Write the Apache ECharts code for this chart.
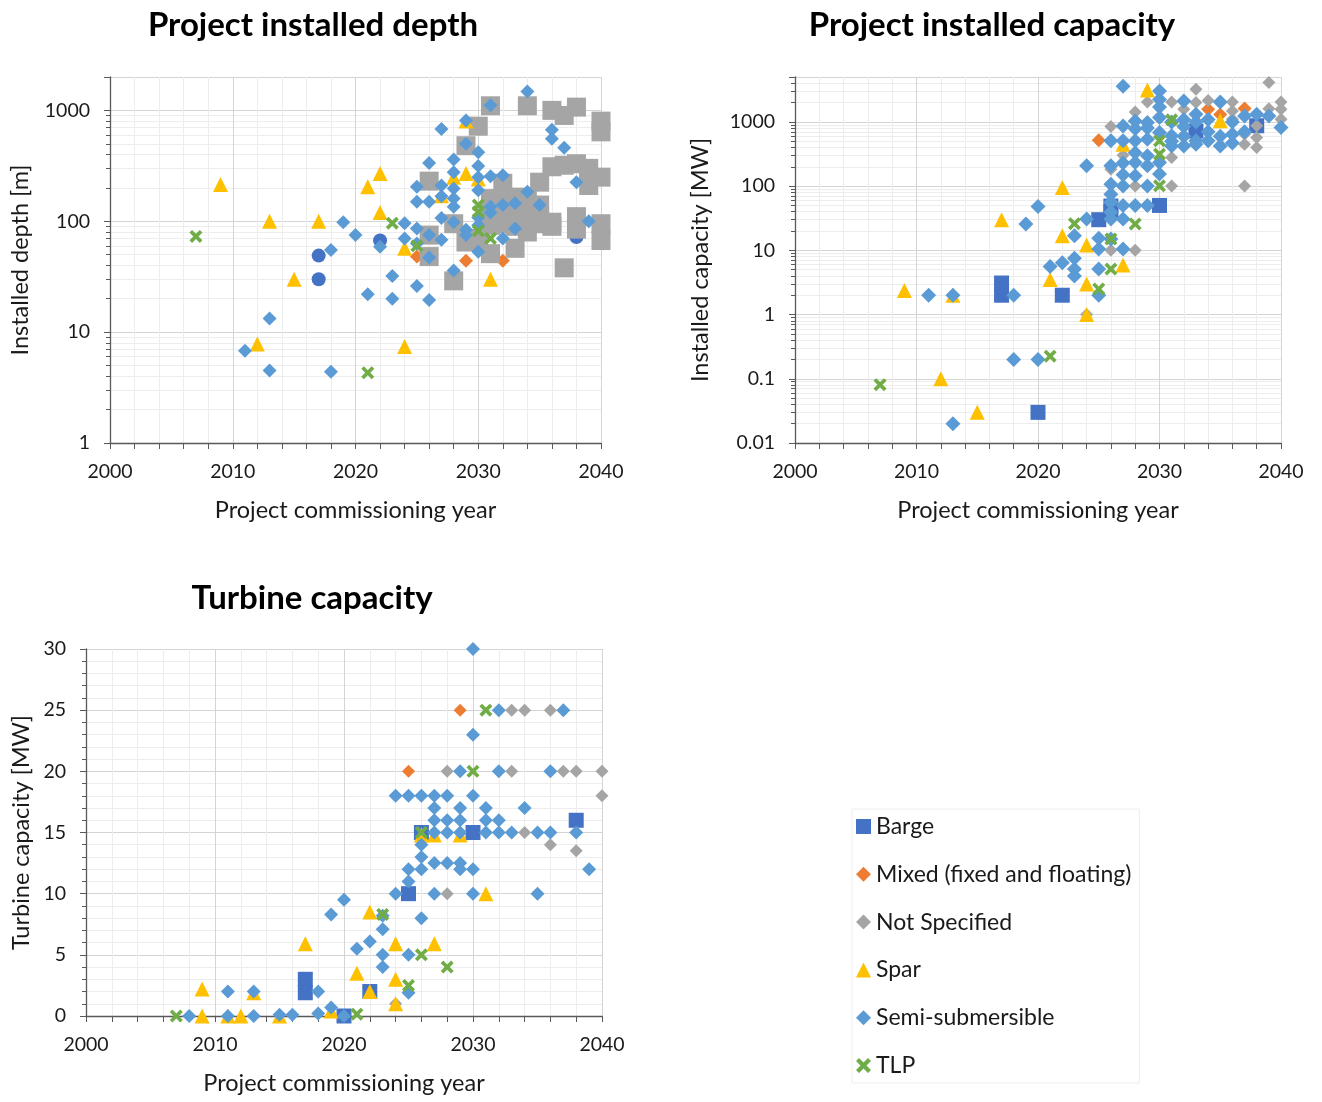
<!DOCTYPE html>
<html>
<head>
<meta charset="utf-8">
<title>Floating offshore wind projects</title>
<script src="https://cdn.jsdelivr.net/npm/echarts/dist/echarts.min.js"></script>
<style>
  html, body { margin: 0; padding: 0; background: #ffffff; }
  #chart { width: 1322px; height: 1102px; }
</style>
</head>
<body>
<div id="chart"></div>
<script>
// ---- Foundation types (legend order) ----
const seriesNames = ['Barge', 'Mixed (fixed and floating)', 'Not Specified', 'Spar', 'Semi-submersible', 'TLP'];
const xTicks = [2000, 2010, 2020, 2030, 2040];

// ---- Project installed depth [m] : [commissioning year, depth] ----
const depthBarge = [[2017, 49], [2017, 30], [2022, 67], [2038, 72]];
const depthMixed = [[2025, 48], [2029, 44], [2032, 44]];
const depthNotSpecified = [
  [2026, 230], [2026, 75], [2026, 48], [2028, 95], [2028, 29], [2029, 480], [2029, 65],
  [2030, 720], [2030, 70], [2031, 1100], [2031, 92], [2031, 51], [2031, 115], [2031, 160],
  [2032, 220], [2032, 130], [2032, 95], [2032, 110], [2032, 150], [2033, 165], [2033, 120],
  [2033, 105], [2033, 90], [2033, 57], [2033, 140], [2034, 1100], [2034, 155], [2034, 125],
  [2034, 100], [2034, 80], [2035, 225], [2035, 140], [2035, 110], [2035, 95], [2036, 1000],
  [2036, 310], [2036, 98], [2036, 90], [2037, 900], [2037, 320], [2037, 38], [2038, 1070],
  [2038, 330], [2038, 110], [2038, 85], [2039, 300], [2039, 210], [2039, 250], [2040, 800],
  [2040, 640], [2040, 250], [2040, 95], [2040, 67]
];
const depthSpar = [
  [2009, 215], [2012, 7.8], [2013, 100], [2015, 30], [2017, 100], [2021, 205], [2022, 270],
  [2022, 120], [2024, 57], [2024, 7.4], [2027, 170], [2028, 250], [2029, 270], [2029, 800],
  [2030, 240], [2031, 30]
];
const depthSemiSub = [
  [2011, 6.8], [2013, 13.3], [2013, 4.5], [2018, 4.4], [2018, 55], [2019, 98], [2020, 75],
  [2021, 22], [2022, 59], [2023, 32], [2023, 20], [2024, 96], [2024, 70], [2025, 205],
  [2025, 150], [2025, 86], [2025, 63], [2025, 26], [2026, 335], [2026, 150], [2026, 75],
  [2026, 47], [2026, 19.5], [2027, 680], [2027, 210], [2027, 168], [2027, 107], [2027, 68],
  [2028, 360], [2028, 277], [2028, 197], [2028, 160], [2028, 135], [2028, 98], [2028, 36],
  [2029, 810], [2029, 500], [2029, 84], [2029, 75], [2030, 420], [2030, 315], [2030, 250],
  [2030, 190], [2030, 108], [2030, 92], [2030, 53], [2031, 1110], [2031, 254], [2031, 135],
  [2031, 120], [2032, 260], [2032, 140], [2032, 70], [2033, 145], [2033, 86], [2034, 1480],
  [2034, 185], [2035, 140], [2036, 670], [2036, 555], [2037, 460], [2038, 225], [2039, 100]
];
const depthTLP = [
  [2007, 73], [2021, 4.3], [2023, 96], [2025, 60], [2030, 140], [2030, 122], [2030, 82], [2031, 70]
];

// ---- Project installed capacity [MW] : [commissioning year, capacity] ----
const capBarge = [
  [2017, 3.1], [2017, 2.0], [2020, 0.03], [2022, 2.0], [2025, 30], [2026, 49], [2026, 40],
  [2030, 50], [2033, 720], [2038, 870]
];
const capMixed = [[2025, 520], [2034, 1570], [2035, 1300], [2037, 1610]];
const capNotSpecified = [
  [2024, 1.0], [2026, 845], [2026, 183], [2026, 10], [2027, 303], [2028, 1430], [2028, 100],
  [2028, 10], [2029, 2040], [2031, 2040], [2031, 279], [2031, 100], [2032, 1570], [2033, 3220],
  [2033, 2000], [2034, 2150], [2036, 2040], [2036, 1480], [2036, 1100], [2037, 640],
  [2037, 450], [2037, 100], [2038, 870], [2038, 570], [2038, 400], [2039, 4100], [2039, 1600],
  [2040, 2040], [2040, 1570], [2040, 1100]
];
const capSpar = [
  [2009, 2.36], [2012, 0.1], [2013, 2.0], [2015, 0.03], [2017, 30], [2021, 3.5], [2022, 95],
  [2022, 16.9], [2024, 12.1], [2024, 3.0], [2024, 1.0], [2027, 450], [2027, 5.9],
  [2029, 3140], [2035, 1040]
];
const capSemiSub = [
  [2011, 2.0], [2013, 2.0], [2013, 0.02], [2018, 2.0], [2018, 0.2], [2019, 25.6], [2020, 0.2],
  [2020, 48], [2021, 5.6], [2022, 6.4], [2023, 7.5], [2023, 5.1], [2023, 4.0], [2023, 16.9],
  [2024, 207], [2024, 30.7], [2025, 15.4], [2025, 10.5], [2025, 5.1], [2025, 2.0],
  [2026, 207], [2026, 107], [2026, 75], [2026, 56], [2026, 39], [2026, 30.7], [2026, 15],
  [2026, 507], [2027, 3600], [2027, 866], [2027, 507], [2027, 230], [2027, 150], [2027, 100],
  [2027, 50], [2027, 30.7], [2027, 10.5], [2028, 1037], [2028, 780], [2028, 507], [2028, 330],
  [2028, 233], [2028, 145], [2028, 50], [2029, 980], [2029, 800], [2029, 537], [2029, 296],
  [2029, 207], [2029, 100], [2029, 50], [2030, 3030], [2030, 2240], [2030, 1700], [2030, 1170],
  [2030, 682], [2030, 233], [2030, 154], [2031, 1000], [2031, 610], [2031, 500], [2031, 420],
  [2032, 2120], [2032, 1090], [2032, 850], [2032, 600], [2032, 420], [2033, 1320], [2033, 1000],
  [2033, 507], [2033, 450], [2034, 1090], [2034, 700], [2034, 507], [2035, 2040], [2035, 600],
  [2035, 420], [2036, 1000], [2036, 640], [2036, 470], [2037, 1240], [2037, 700], [2038, 1320],
  [2039, 1240], [2040, 815]
];
const capTLP = [
  [2007, 0.081], [2021, 0.225], [2023, 26], [2025, 2.5], [2026, 15], [2026, 5.1], [2028, 25.7],
  [2030, 507], [2030, 314], [2030, 101], [2031, 1075]
];

// ---- Turbine capacity [MW] : [commissioning year, rating] ----
const turbBarge = [
  [2017, 3.0], [2017, 1.9], [2020, 0], [2022, 2.0], [2025, 10], [2026, 15], [2030, 15], [2038, 16]
];
const turbMixed = [[2025, 20], [2029, 25]];
const turbNotSpecified = [
  [2024, 1.0], [2028, 20], [2028, 10], [2033, 25], [2034, 25], [2036, 25], [2033, 20],
  [2037, 20], [2038, 20], [2040, 20], [2040, 18], [2034, 15], [2036, 14], [2038, 13.5]
];
const turbSpar = [
  [2009, 2.2], [2009, 0], [2011, 0], [2012, 0], [2013, 1.9], [2015, 0], [2017, 5.9],
  [2019, 0.4], [2021, 3.5], [2022, 8.5], [2022, 2.0], [2024, 5.9], [2024, 3.0], [2024, 1.0],
  [2026, 14.8], [2027, 14.8], [2029, 14.8], [2027, 5.9], [2031, 10]
];
const turbSemiSub = [
  [2008, 0], [2011, 2.0], [2011, 0], [2013, 2.0], [2013, 0], [2015, 0.1], [2016, 0.1],
  [2018, 2.0], [2018, 0.2], [2019, 0.7], [2019, 8.3], [2020, 9.5], [2020, 0], [2021, 5.5],
  [2022, 6.1], [2023, 8.2], [2023, 7.1], [2023, 5.0], [2023, 4.0], [2024, 18], [2024, 10],
  [2025, 18], [2025, 12], [2025, 11], [2025, 5.0], [2025, 1.9], [2026, 18], [2026, 14],
  [2026, 13], [2026, 12], [2026, 8], [2027, 18], [2027, 17], [2027, 16], [2027, 15],
  [2027, 12.5], [2027, 10], [2028, 18], [2028, 16], [2028, 15], [2028, 12.5], [2029, 20],
  [2029, 17], [2029, 16], [2029, 15], [2029, 12.5], [2029, 12], [2030, 30], [2030, 23],
  [2030, 18], [2030, 12], [2030, 10], [2031, 17], [2031, 16], [2031, 15], [2032, 25],
  [2032, 20], [2032, 16], [2032, 15], [2033, 15], [2034, 17], [2035, 15], [2035, 10],
  [2036, 20], [2036, 15], [2037, 25], [2038, 15], [2039, 12]
];
const turbTLP = [
  [2007, 0], [2021, 0.15], [2023, 8.3], [2025, 2.5], [2026, 15], [2026, 5], [2028, 4],
  [2030, 20], [2031, 25]
];

// ---- styling ----
const COLORS = ['#4472C4', '#ED7D31', '#A5A5A5', '#FFC000', '#5B9BD5', '#70AD47'];
const CROSS = 'path://M2,0 L5,3 L8,0 L10,2 L7,5 L10,8 L8,10 L5,7 L2,10 L0,8 L3,5 L0,2 Z';
const FONT = 'Lato, "Open Sans", sans-serif';
const AXIS_COLOR = '#595959';
const TEXT_COLOR = '#1a1a1a';
const plainNumber = function (v) { return String(v); };

function scatter(name, data, idx, symbol, size) {
  return {
    type: 'scatter',
    name: name,
    data: data,
    xAxisIndex: idx,
    yAxisIndex: idx,
    symbol: symbol,
    symbolSize: size,
    itemStyle: { color: COLORS[seriesNames.indexOf(name)], opacity: 1 },
    emphasis: { disabled: true },
    clip: false,
    z: 3
  };
}

function yearAxis(idx) {
  return {
    type: 'value',
    gridIndex: idx,
    min: xTicks[0],
    max: xTicks[xTicks.length - 1],
    interval: 10,
    name: 'Project commissioning year',
    nameLocation: 'middle',
    nameGap: 55,
    nameTextStyle: { fontFamily: FONT, fontSize: 23.5, color: TEXT_COLOR },
    axisLine: { show: true, onZero: false, lineStyle: { color: AXIS_COLOR, width: 1.3 } },
    axisTick: { show: true, length: 6, lineStyle: { color: AXIS_COLOR } },
    minorTick: { show: true, splitNumber: 5, length: 6, lineStyle: { color: AXIS_COLOR } },
    axisLabel: { fontFamily: FONT, fontSize: 19.5, color: TEXT_COLOR, margin: 19, formatter: plainNumber },
    splitLine: { show: true, lineStyle: { color: '#d4d4d4', width: 1 } },
    minorSplitLine: { show: true, lineStyle: { color: '#ededed', width: 1 } }
  };
}

function valueAxisBase(idx, name, gap) {
  return {
    gridIndex: idx,
    name: name,
    nameLocation: 'middle',
    nameGap: gap,
    nameTextStyle: { fontFamily: FONT, fontSize: 23.5, color: TEXT_COLOR },
    axisLine: { show: true, lineStyle: { color: AXIS_COLOR, width: 1.3 } },
    axisTick: { show: true, length: 6, lineStyle: { color: AXIS_COLOR } },
    axisLabel: { fontFamily: FONT, fontSize: 19.5, color: TEXT_COLOR, margin: 20, formatter: plainNumber },
    splitLine: { show: true, lineStyle: { color: '#d4d4d4', width: 1 } },
    minorSplitLine: { show: true, lineStyle: { color: '#ededed', width: 1 } }
  };
}

const yDepth = Object.assign(valueAxisBase(0, 'Installed depth [m]', 78), {
  type: 'log', logBase: 10, min: 1, max: 2000,
  minorTick: { show: true, splitNumber: 9, length: 4, lineStyle: { color: AXIS_COLOR } }
});
yDepth.axisLabel.showMaxLabel = false;

const yCapacity = Object.assign(valueAxisBase(1, 'Installed capacity [MW]', 83), {
  type: 'log', logBase: 10, min: 0.01, max: 5000,
  minorTick: { show: true, splitNumber: 9, length: 4, lineStyle: { color: AXIS_COLOR } }
});
yCapacity.axisLabel.showMaxLabel = false;

const yTurbine = Object.assign(valueAxisBase(2, 'Turbine capacity [MW]', 53), {
  type: 'value', min: 0, max: 30, interval: 5,
  minorTick: { show: true, splitNumber: 5, length: 4, lineStyle: { color: AXIS_COLOR } }
});

const titleStyle = { fontFamily: FONT, fontSize: 33, fontWeight: 'bold', color: '#000' };

const option = {
  backgroundColor: '#ffffff',
  animation: false,
  title: [
    { text: 'Project installed depth', left: 308, top: 4, textAlign: 'center', textStyle: titleStyle },
    { text: 'Project installed capacity', left: 987, top: 4, textAlign: 'center', textStyle: titleStyle },
    { text: 'Turbine capacity', left: 307, top: 577, textAlign: 'center', textStyle: titleStyle }
  ],
  grid: [
    { left: 110, top: 77, width: 491, height: 366 },
    { left: 795, top: 77, width: 486, height: 366 },
    { left: 86, top: 649, width: 516, height: 367 }
  ],
  legend: {
    orient: 'vertical',
    left: 852,
    top: 809,
    itemWidth: 15,
    itemHeight: 15,
    itemGap: 24.8,
    selectedMode: false,
    borderColor: '#eeeeee',
    borderWidth: 1,
    padding: [6, 8, 6, 4],
    textStyle: { fontFamily: FONT, fontSize: 23, color: TEXT_COLOR },
    data: [
      { name: seriesNames[0], icon: 'rect' },
      { name: seriesNames[1], icon: 'diamond' },
      { name: seriesNames[2], icon: 'diamond' },
      { name: seriesNames[3], icon: 'triangle' },
      { name: seriesNames[4], icon: 'diamond' },
      { name: seriesNames[5], icon: CROSS }
    ]
  },
  xAxis: [yearAxis(0), yearAxis(1), yearAxis(2)],
  yAxis: [yDepth, yCapacity, yTurbine],
  series: [
    // installed depth
    scatter(seriesNames[0], depthBarge, 0, 'circle', 14),
    scatter(seriesNames[1], depthMixed, 0, 'diamond', 14),
    scatter(seriesNames[2], depthNotSpecified, 0, 'rect', 19),
    scatter(seriesNames[3], depthSpar, 0, 'triangle', 15),
    scatter(seriesNames[4], depthSemiSub, 0, 'diamond', 14),
    scatter(seriesNames[5], depthTLP, 0, CROSS, 13),
    // installed capacity
    scatter(seriesNames[0], capBarge, 1, 'rect', 15),
    scatter(seriesNames[1], capMixed, 1, 'diamond', 14),
    scatter(seriesNames[2], capNotSpecified, 1, 'diamond', 13),
    scatter(seriesNames[3], capSpar, 1, 'triangle', 15),
    scatter(seriesNames[4], capSemiSub, 1, 'diamond', 15),
    scatter(seriesNames[5], capTLP, 1, CROSS, 13),
    // turbine capacity
    scatter(seriesNames[0], turbBarge, 2, 'rect', 15),
    scatter(seriesNames[1], turbMixed, 2, 'diamond', 13),
    scatter(seriesNames[2], turbNotSpecified, 2, 'diamond', 13),
    scatter(seriesNames[3], turbSpar, 2, 'triangle', 15),
    scatter(seriesNames[4], turbSemiSub, 2, 'diamond', 14),
    scatter(seriesNames[5], turbTLP, 2, CROSS, 13)
  ]
};

const chart = echarts.init(document.getElementById('chart'), null, { renderer: 'canvas' });
chart.setOption(option);
</script>
</body>
</html>
